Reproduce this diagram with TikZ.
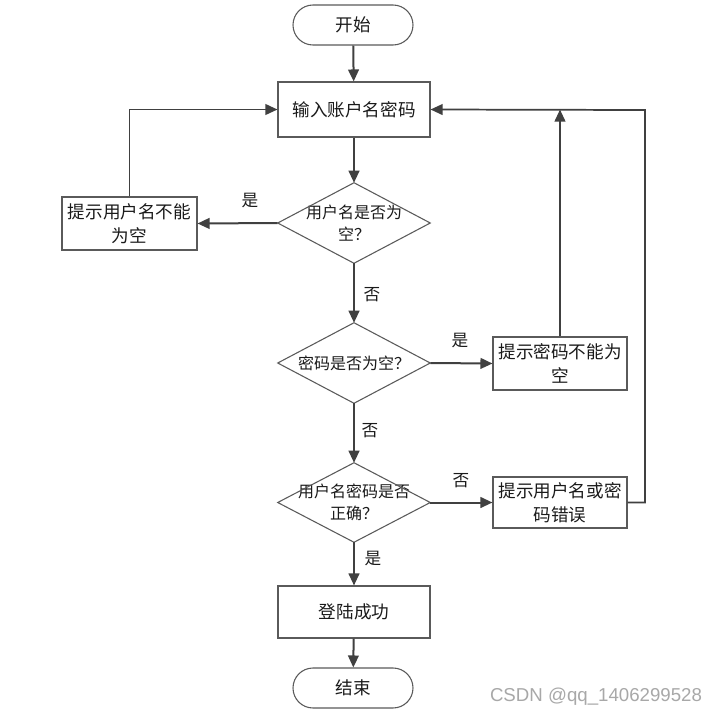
\documentclass[tikz,border=0pt]{standalone}
\usepackage{fontspec}
\newfontfamily\cjk{Noto Sans CJK SC}
\newfontfamily\wm{Liberation Sans}
\usetikzlibrary{arrows.meta}
\definecolor{outl}{HTML}{5A5A5A}
\definecolor{arrc}{HTML}{404040}
\definecolor{txt}{HTML}{1A1A1A}
\definecolor{wmc}{HTML}{A8A8A8}
\begin{document}
\begin{tikzpicture}[x=0.75pt,y=-0.75pt,
  box/.style={draw=outl, line width=0.8pt, fill=white, inner sep=0pt, align=center,
    font=\cjk\fontsize{13.2}{18}\selectfont, text=txt},
  term/.style={box, rounded corners=15pt, minimum width=90pt, minimum height=30pt},
  dec/.style={inner sep=0pt, minimum width=114pt, minimum height=60pt, align=center,
    font=\cjk\fontsize{12}{16}\selectfont, text=txt},
  decline/.style={draw=outl, line width=0.8pt},
  arr/.style={draw=arrc, line width=1.5pt, -{Triangle[length=9pt,width=8pt]}},
  ret/.style={draw=arrc, line width=1.3pt, -{Triangle[length=9pt,width=8pt]}},
  lab/.style={font=\cjk\fontsize{12.5}{14}\selectfont, text=txt}]
\useasboundingbox (0,0) rectangle (717,718);
\fill[white] (0,0) rectangle (717,718);

\node[term] (start) at (353,25) {开始};
\node[box, minimum width=114pt, minimum height=41.25pt] (input) at (354,109.5) {输入账户名密码};

\node[dec] (d1) at (354,223) {用户名是否为\\空？};
\draw[decline] (d1.north)--(d1.east)--(d1.south)--(d1.west)--cycle;
\node[box, minimum width=101.25pt, minimum height=39.75pt] (b1) at (129.5,223.5) {提示用户名不能\\为空};

\node[dec] (d2) at (354,363) {密码是否为空？};
\draw[decline] (d2.north)--(d2.east)--(d2.south)--(d2.west)--cycle;
\node[box, minimum width=100.5pt, minimum height=39.75pt] (b2) at (560,363.5) {提示密码不能为\\空};

\node[dec, minimum height=59.25pt] (d3) at (354,502.5) {用户名密码是否\\正确？};
\draw[decline] (d3.north)--(d3.east)--(d3.south)--(d3.west)--cycle;
\node[box, minimum width=100.5pt, minimum height=38.25pt] (b3) at (560,502.5) {提示用户名或密\\码错误};

\node[box, minimum width=114pt, minimum height=39pt] (ok) at (354,612) {登陆成功};
\node[term] (end) at (353,688) {结束};

\draw[arr] (start) -- (input);
\draw[arr] (input) -- (d1);
\draw[arr] (d1.west) -- (b1.east);
\draw[arr] (d1) -- (d2);
\draw[arr] (d2.east) -- (b2.west);
\draw[arr] (d2) -- (d3);
\draw[arr] (d3.east) -- (b3.west);
\draw[arr] (d3) -- (ok);
\draw[arr] (ok) -- (end);

\coordinate (rc) at (645,110);
\draw[ret] (b1.north) |- (input.west);
\draw[ret] (b2.north) -- (b2.north |- input.east);
\draw[ret] (b3.east) -| (rc) -- (input.east);

\node[lab] (l1) at (250,201) {是};
\node[lab] (l2) at (372,295) {否};
\node[lab] (l3) at (460,341) {是};
\node[lab] (l4) at (370,431) {否};
\node[lab] (l5) at (461,481) {否};
\node[lab] (l6) at (373,559) {是};

\node[font=\wm\fontsize{14}{16}\selectfont, text=wmc] (wm) at (596,697) {CSDN @qq\_1406299528};
\end{tikzpicture}
\end{document}
